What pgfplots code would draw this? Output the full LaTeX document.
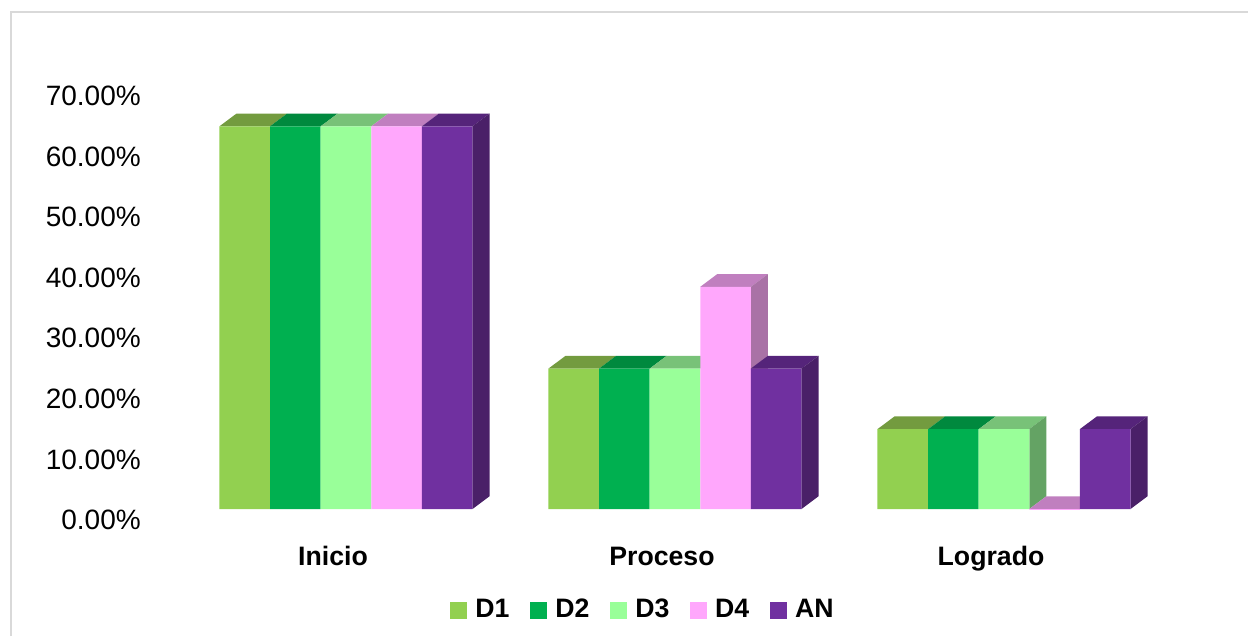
\documentclass[border=0pt]{standalone}
\usepackage{fontspec}
\setmainfont{Liberation Sans}
\usepackage{pgfplots}
\pgfplotsset{compat=1.18}
% front, top and side colours of the bars
\definecolor{dA}{HTML}{92D050}\definecolor{dAt}{HTML}{739B3F}
\definecolor{dB}{HTML}{00B050}\definecolor{dBt}{HTML}{00893E}
\definecolor{dC}{HTML}{99FF99}\definecolor{dCt}{HTML}{78C278}\definecolor{dCs}{HTML}{64A364}
\definecolor{dD}{HTML}{FFA7FC}\definecolor{dDt}{HTML}{C07FBF}\definecolor{dDs}{HTML}{A972A6}
\definecolor{an}{HTML}{7030A0}\definecolor{ant}{HTML}{55247A}\definecolor{ans}{HTML}{4A2068}
\definecolor{frame}{HTML}{D9D9D9}
\newcommand{\face}[2]{\addplot[forget plot, fill=#1, draw=none] coordinates {#2} --cycle;}
\begin{document}
\begin{tikzpicture}
\useasboundingbox (0,0) rectangle (936pt,477pt);
\draw[frame, line width=1.5pt] (8.25pt,0) -- (8.25pt,468pt) -- (936pt,468pt);
% tick labels: 0 sits lower than the floor of the bars
\begin{axis}[
    at={(112.5pt,87pt)}, anchor=south west,
    scale only axis, width=765pt, height=318pt,
    xmin=0, xmax=1, ymin=0, ymax=70,
    xtick=\empty, ytick={0,10,20,30,40,50,60,70},
    axis line style={draw=none}, major tick length=0pt,
    yticklabel={\pgfmathprintnumber[fixed,fixed zerofill,precision=2]{\tick}\%},
    yticklabel style={font=\fontsize{21}{24}\selectfont, inner sep=0pt, xshift=-6.75pt, /pgf/number format/assume math mode=true},
]
\end{axis}
\begin{axis}[
    at={(112.5pt,95.25pt)}, anchor=south west,
    scale only axis, width=765pt, height=309.75pt,
    xmin=-0.5957, xmax=2.5046, ymin=1.81, ymax=70,
    ytick=\empty,
    xtick={-0.0395,0.9605,1.9605},
    xticklabels={Inicio,Proceso,Logrado},
    axis line style={draw=none}, major tick length=0pt,
    xticklabel style={font=\bfseries\fontsize{20}{24}\selectfont, inner sep=0pt, text height=14.4pt, text depth=4.2pt, yshift=-28pt},
    legend columns=5,
    legend cell align=left,
    legend style={at={(0.4835,-0.2433)}, anchor=center, draw=none, fill=none,
        font=\bfseries\fontsize{20}{24}\selectfont, inner sep=0pt,
        /tikz/every odd column/.append style={column sep=4.25pt},
        /tikz/every even column/.append style={column sep=13.4pt}},
    legend image code/.code={\fill[#1] (0pt,-7pt) rectangle (12.75pt,5.75pt);},
]
% D1
\face{dAt}{(-0.3845,65) (-0.2307,65) (-0.1790,67.1) (-0.3328,67.1)}
\face{dAt}{(0.6155,25) (0.7693,25) (0.8210,27.1) (0.6672,27.1)}
\face{dAt}{(1.6155,15) (1.7693,15) (1.8210,17.1) (1.6672,17.1)}
\addplot[ybar, bar width=37.95pt, bar shift=-75.9pt, fill=dA, draw=none] coordinates {(0,65) (1,25) (2,15)};
\addlegendentry{D1}
% D2
\face{dBt}{(-0.2307,65) (-0.0769,65) (-0.0252,67.1) (-0.1790,67.1)}
\face{dBt}{(0.7693,25) (0.9231,25) (0.9748,27.1) (0.8210,27.1)}
\face{dBt}{(1.7693,15) (1.9231,15) (1.9748,17.1) (1.8210,17.1)}
\addplot[ybar, bar width=37.95pt, bar shift=-37.95pt, fill=dB, draw=none] coordinates {(0,65) (1,25) (2,15)};
\addlegendentry{D2}
% D3
\face{dCt}{(-0.0769,65) (0.0769,65) (0.1286,67.1) (-0.0252,67.1)}
\face{dCt}{(0.9231,25) (1.0769,25) (1.1286,27.1) (0.9748,27.1)}
\face{dCt}{(1.9231,15) (2.0769,15) (2.1286,17.1) (1.9748,17.1)}
\face{dCs}{(2.0769,1.81) (2.1286,3.91) (2.1286,17.1) (2.0769,15)}
\addplot[ybar, bar width=37.95pt, bar shift=0pt, fill=dC, draw=none] coordinates {(0,65) (1,25) (2,15)};
\addlegendentry{D3}
% D4
\face{dDt}{(0.0769,65) (0.2307,65) (0.2824,67.1) (0.1286,67.1)}
\face{dDt}{(1.0769,38.5) (1.2307,38.5) (1.2824,40.6) (1.1286,40.6)}
\face{dDs}{(1.2307,1.81) (1.2824,3.91) (1.2824,40.6) (1.2307,38.5)}
\face{dDt}{(2.0769,1.81) (2.2307,1.81) (2.2824,3.91) (2.1286,3.91)}
\addplot[ybar, bar width=37.95pt, bar shift=37.95pt, fill=dD, draw=none] coordinates {(0,65) (1,38.5) (2,0)};
\addlegendentry{D4}
% AN
\face{ant}{(0.2307,65) (0.3845,65) (0.4362,67.1) (0.2824,67.1)}
\face{ans}{(0.3845,1.81) (0.4362,3.91) (0.4362,67.1) (0.3845,65)}
\face{ant}{(1.2307,25) (1.3845,25) (1.4362,27.1) (1.2824,27.1)}
\face{ans}{(1.3845,1.81) (1.4362,3.91) (1.4362,27.1) (1.3845,25)}
\face{ant}{(2.2307,15) (2.3845,15) (2.4362,17.1) (2.2824,17.1)}
\face{ans}{(2.3845,1.81) (2.4362,3.91) (2.4362,17.1) (2.3845,15)}
\addplot[ybar, bar width=37.95pt, bar shift=75.9pt, fill=an, draw=none] coordinates {(0,65) (1,25) (2,15)};
\addlegendentry{AN}
\end{axis}
\end{tikzpicture}
\end{document}
